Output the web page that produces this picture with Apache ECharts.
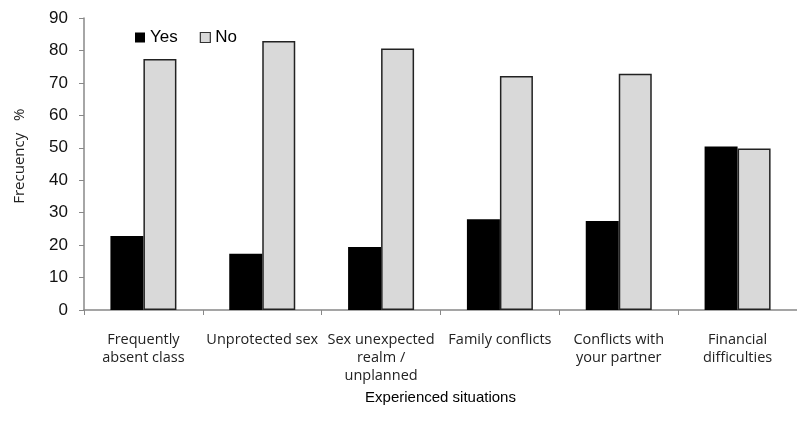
<!DOCTYPE html>
<html><head><meta charset="utf-8">
<script src="https://cdn.jsdelivr.net/npm/echarts@6/dist/echarts.min.js"></script>
<style>html,body{margin:0;padding:0;background:#fff}#c{width:797px;height:433px}</style>
</head><body><div id="c"></div>
<script>
const categories = ["Frequently\nabsent class","Unprotected sex","Sex unexpected\nrealm /\nunplanned","Family conflicts","Conflicts with\nyour partner","Financial\ndifficulties"];
const yesValues = [22.8, 17.3, 19.4, 28.0, 27.4, 50.4];
const noValues = [77.4, 82.9, 80.6, 72.1, 72.8, 49.8];
const yTicks = [0, 90, 10];

const chart = echarts.init(document.getElementById('c'));
chart.setOption({
  animation:false,
  textStyle:{fontFamily:'Liberation Sans'},
  legend:{
    left:130, top:24, itemWidth:10, itemHeight:10, itemGap:22,
    textStyle:{fontSize:17,color:'#000'},
    data:[{name:'Yes',icon:'rect',itemStyle:{color:'#000',borderWidth:0}},{name:'No',icon:'rect',itemStyle:{color:'#d9d9d9',borderColor:'#333',borderWidth:1.2}}]
  },
  grid:{left:84,right:-3,top:18,bottom:123,containLabel:false},
  xAxis:{
    type:'category', data:categories,
    name:'Experienced situations', nameLocation:'middle', nameGap:80,
    nameTextStyle:{fontSize:15,color:'#000'},
    axisLine:{lineStyle:{color:'#888',width:1.5}},
    axisTick:{show:true,length:5,lineStyle:{color:'#888'}},
    axisLabel:{fontSize:14.5,fontFamily:'Open Sans',color:'#222',lineHeight:18,margin:21,interval:0}
  },
  yAxis:{
    type:'value', min:yTicks[0], max:yTicks[1], interval:yTicks[2],
    name:'    Frecuency   %', nameLocation:'middle', nameGap:57, nameRotate:90,
    nameTextStyle:{fontSize:15,fontFamily:'Open Sans',color:'#222'},
    axisLine:{show:true,lineStyle:{color:'#888',width:1.5}},
    axisTick:{show:true,length:5,inside:false,lineStyle:{color:'#888'}},
    axisLabel:{fontSize:17,color:'#111',margin:16},
    splitLine:{show:false}
  },
  series:[
    {name:'Yes',type:'bar',data:yesValues,barWidth:33,barGap:'0%',itemStyle:{color:'#000'}},
    {name:'No',type:'bar',data:noValues,barWidth:33,itemStyle:{color:'#d9d9d9',borderColor:'#222',borderWidth:1.5}}
  ]
});
</script></body></html>
